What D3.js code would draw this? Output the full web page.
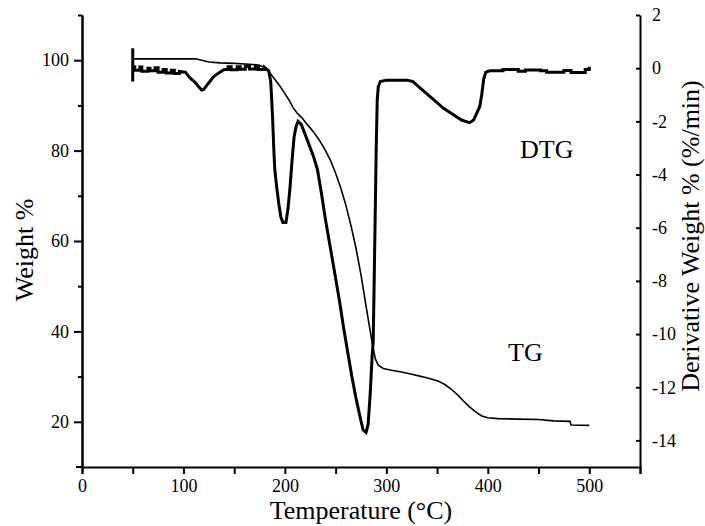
<!DOCTYPE html>
<html>
<head>
    <title>TG / DTG</title>
    <script src="https://cdnjs.cloudflare.com/ajax/libs/d3/7.8.5/d3.min.js"></script>
    <style>
        body { margin: 0; background: #fff; }
        svg text { font-family: "Liberation Serif", "Times New Roman", serif; fill: #000; }
        .axis path, .axis line { stroke: #000; stroke-width: 2; }
        .axis text { font-size: 18px; }
        .axis-title { font-size: 26px; }
    </style>
</head>
<body>
<div id="chart"></div>
<script>
// temperature (°C) vs weight %
const tgTemp   = [50, 60, 80, 100, 112, 118, 125, 136, 150, 165, 175, 180, 185, 190, 195, 200, 204, 208, 212, 217, 222, 228, 234, 240, 245, 250, 255, 260, 265, 270, 275, 279, 283, 286, 289, 292, 297, 305, 315, 325, 335, 345, 352, 358, 364, 370, 376, 382, 388, 394, 400, 410, 430, 450, 465, 481, 482, 500];
const tgWeight = [100.3, 100.3, 100.3, 100.3, 100.3, 100, 99.6, 99.4, 99.3, 99.1, 98.9, 98.3, 97.2, 95.8, 94.3, 92.6, 91.2, 89.5, 88.3, 87.2, 85.8, 84.2, 82.3, 80, 77.8, 75, 71.8, 68, 63.5, 58.5, 52.5, 47, 41.5, 37.5, 34, 32.5, 31.8, 31.4, 31, 30.5, 30, 29.4, 28.9, 28.2, 27.2, 26, 24.6, 23.3, 22.2, 21.3, 20.9, 20.7, 20.6, 20.5, 20.2, 20.1, 19.3, 19.2];

// temperature (°C) vs derivative weight (%/min), stepped noise on the flat parts
const dtgTemp  = [50, 50, 50, 52, 52, 57, 57, 59, 59, 65, 65, 67, 67, 72, 72, 75, 75, 80, 80, 83, 83, 88, 88, 91, 91, 96, 96, 102, 104, 106, 109, 112, 115, 118, 120, 123, 126, 129, 132, 136, 140, 144, 144, 147, 147, 153, 153, 156, 156, 161, 161, 165, 165, 171, 171, 174, 174, 180, 180, 184, 186, 187, 188, 189, 190, 192, 194, 196, 198, 201, 203, 205, 207, 209, 211, 213, 216, 220, 224, 228, 232, 236, 240, 245, 250, 254, 258, 262, 266, 270, 274, 277, 280, 282, 284, 286, 287, 288, 289, 290, 291, 292, 294, 300, 310, 320, 326, 332, 338, 344, 350, 356, 362, 368, 374, 378, 382, 386, 389, 392, 394, 396, 398, 402, 415, 415, 430, 430, 437, 437, 452, 452, 458, 458, 475, 475, 482, 482, 496, 496, 500, 500];
const dtgValue = [0.75, -0.5, 0.05, 0.05, -0.08, -0.08, 0.04, 0.04, -0.12, -0.12, 0, 0, -0.1, -0.1, 0.02, 0.02, -0.15, -0.15, -0.05, -0.05, -0.18, -0.18, -0.08, -0.08, -0.2, -0.2, -0.12, -0.15, -0.25, -0.35, -0.45, -0.55, -0.7, -0.82, -0.8, -0.65, -0.5, -0.35, -0.25, -0.15, -0.05, -0.05, 0.05, 0.05, -0.06, -0.06, 0.05, 0.05, -0.04, -0.04, 0.07, 0.07, -0.03, -0.03, 0.06, 0.06, -0.05, -0.05, 0.03, -0.1, -0.5, -1.2, -2, -3, -3.8, -4.5, -5.1, -5.6, -5.8, -5.8, -5.3, -4.5, -3.5, -2.6, -2.2, -2, -2.1, -2.5, -2.9, -3.3, -3.8, -4.7, -5.7, -6.8, -7.9, -8.8, -9.8, -10.7, -11.6, -12.4, -13.1, -13.6, -13.7, -13.4, -12.3, -10.8, -10.3, -8, -5.5, -3, -1.2, -0.7, -0.5, -0.45, -0.45, -0.45, -0.5, -0.7, -0.9, -1.1, -1.3, -1.5, -1.65, -1.8, -1.95, -2, -2.05, -1.95, -1.7, -1.45, -1, -0.4, -0.15, -0.1, -0.1, -0.05, -0.05, -0.12, -0.12, -0.07, -0.07, -0.1, -0.1, -0.15, -0.15, -0.09, -0.09, -0.16, -0.16, -0.05, -0.05, 0.05];

const xTicks = [0, 100, 200, 300, 400, 500];
const leftTicks = [20, 40, 60, 80, 100];
const rightTicks = [2, 0, -2, -4, -6, -8, -10, -12, -14];

const W = 705, H = 526;
const margin = {top: 15, right: 65, bottom: 59, left: 82};

const svg = d3.select("#chart").append("svg")
    .attr("width", W)
    .attr("height", H);

const x = d3.scaleLinear().domain([0, 550]).range([margin.left, W - margin.right]);
const yL = d3.scaleLinear().domain([10, 110]).range([H - margin.bottom, margin.top]);
const yR = d3.scaleLinear().domain([-15, 2]).range([H - margin.bottom, margin.top]);

const serif = "Liberation Serif, Times New Roman, serif";

// bottom axis: ticks every 50, labels on the hundreds
svg.append("g")
    .attr("class", "axis")
    .attr("transform", `translate(0,${H - margin.bottom})`)
    .call(d3.axisBottom(x).tickValues(d3.range(0, 551, 50)).tickSize(7).tickPadding(5)
        .tickFormat(d => xTicks.includes(d) ? d : ""))
    .attr("font-family", serif);

// the bottom line sticks out a little left of the y axis
svg.append("line")
    .attr("x1", margin.left - 6).attr("x2", margin.left)
    .attr("y1", H - margin.bottom).attr("y2", H - margin.bottom)
    .attr("stroke", "#000").attr("stroke-width", 2);

svg.append("g")
    .attr("class", "axis")
    .attr("transform", `translate(${margin.left},0)`)
    .call(d3.axisLeft(yL).tickValues(leftTicks).tickSize(8).tickPadding(5).tickSizeOuter(0))
    .attr("font-family", serif);

svg.append("g")
    .attr("class", "axis")
    .attr("transform", `translate(${margin.left},0)`)
    .call(d3.axisLeft(yL).tickValues([30, 50, 70, 90, 110]).tickSize(4).tickFormat("").tickSizeOuter(0));

// right axis, ticks pointing into the plot
svg.append("g")
    .attr("class", "axis")
    .attr("transform", `translate(${W - margin.right},0)`)
    .call(d3.axisRight(yR).tickValues(rightTicks).tickSize(-4).tickPadding(12).tickSizeOuter(0)
        .tickFormat(d => String(d)))
    .attr("font-family", serif);

const tg = tgTemp.map((t, i) => [t, tgWeight[i]]);
const dtg = dtgTemp.map((t, i) => [t, dtgValue[i]]);

svg.append("path")
    .datum(dtg)
    .attr("fill", "none")
    .attr("stroke", "#000")
    .attr("stroke-width", 3)
    .attr("d", d3.line().x(d => x(d[0])).y(d => yR(d[1])));

svg.append("path")
    .datum(tg)
    .attr("fill", "none")
    .attr("stroke", "#000")
    .attr("stroke-width", 1.6)
    .attr("d", d3.line().x(d => x(d[0])).y(d => yL(d[1])));

svg.append("text").attr("class", "axis-title")
    .attr("x", 520).attr("y", 158).text("DTG");
svg.append("text").attr("class", "axis-title")
    .attr("x", 508).attr("y", 361).text("TG");

svg.append("text").attr("class", "axis-title")
    .attr("x", (margin.left + W - margin.right) / 2).attr("y", 519)
    .attr("text-anchor", "middle")
    .text("Temperature (°C)");

svg.append("text").attr("class", "axis-title")
    .attr("transform", "translate(33,250) rotate(-90)")
    .attr("text-anchor", "middle")
    .text("Weight %");

svg.append("text").attr("class", "axis-title")
    .attr("transform", "translate(699,236) rotate(-90)")
    .attr("text-anchor", "middle")
    .text("Derivative Weight % (%/min)");
</script>
</body>
</html>
